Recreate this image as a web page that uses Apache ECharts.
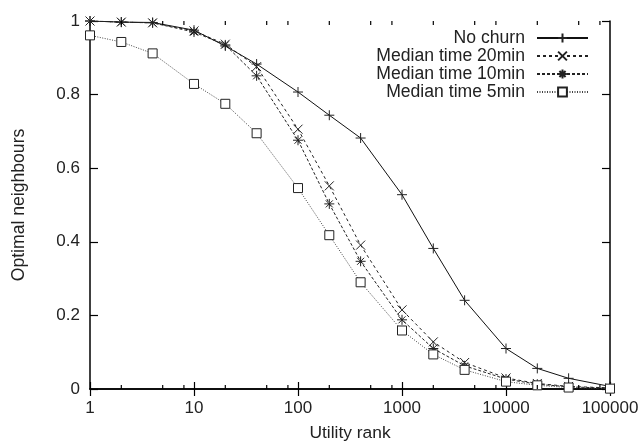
<!DOCTYPE html>
<html><head><meta charset="utf-8">
<script src="https://cdn.jsdelivr.net/npm/echarts@6/dist/echarts.min.js"></script>
<style>html,body{margin:0;padding:0;background:#fff}#c{width:644px;height:447px}</style>
</head><body><div id="c"></div>
<script>
const ranks = [1,2,4,10,20,40,100,200,400,1000,2000,4000,10000,20000,40000,100000];
const noChurn  = [1.0,0.997,0.996,0.975,0.932,0.883,0.807,0.744,0.682,0.528,0.382,0.241,0.110,0.056,0.029,0.007];
const med20    = [1.0,0.997,0.995,0.973,0.937,0.876,0.706,0.552,0.391,0.215,0.128,0.072,0.030,0.015,0.007,0.003];
const med10    = [1.0,0.997,0.995,0.970,0.935,0.851,0.676,0.503,0.347,0.188,0.110,0.063,0.027,0.013,0.006,0.002];
const med5     = [0.961,0.943,0.912,0.829,0.775,0.695,0.546,0.418,0.290,0.159,0.094,0.052,0.020,0.010,0.004,0.001];
const seriesNames = ['No churn','Median time 20min','Median time 10min','Median time 5min'];
const xTickLabels = ['1','10','100','1000','10000','100000'];
const minorTicks = [];
[1,10,100,1000,10000].forEach(d=>[2,5,8].forEach(m=>minorTicks.push(d*m)));

const FONT = '"Liberation Sans", Arial, sans-serif';
const plus = 'path://M0,5L10,5M5,0L5,10';
const cross = 'path://M0,0L10,10M10,0L0,10';
const star = 'path://M0,5L10,5M5,0L5,10M1.5,1.5L8.5,8.5M8.5,1.5L1.5,8.5';

function pair(arr){ return ranks.map((r,i)=>[r,arr[i]]); }
function mk(name, data, sym, size, type, color){
  return {name, type:'line', data:pair(data), symbol:sym, symbolSize:size,
    lineStyle:{color:color, width:1, type:type},
    itemStyle:{color:'#fff', borderColor:'#222', borderWidth:1},
    emphasis:{disabled:true}, z:3};
}
const chart = echarts.init(document.getElementById('c'));
const axisCommon = {
  axisLine:{show:true, lineStyle:{color:'#000', width:1.5}},
  splitLine:{show:false}
};
chart.setOption({
  animation:false,
  backgroundColor:'#fff',
  grid:{left:90, right:34, top:21, bottom:53},
  legend:{
    data:seriesNames, right:55, top:29, padding:0, orient:'vertical', align:'right',
    itemWidth:51, itemHeight:11, itemGap:0,
    textStyle:{fontFamily:FONT, fontSize:17.6, lineHeight:17.6, color:'#222', padding:[0,7,0,0]},
    selectedMode:false
  },
  xAxis:[
    Object.assign({type:'log', logBase:10, min:1, max:100000, position:'bottom',
      axisTick:{inside:true, length:7, lineStyle:{color:'#000', width:1.2}},
      axisLabel:{fontFamily:FONT, fontSize:17, color:'#222', margin:11,
        formatter:(v)=>{const i=Math.round(Math.log10(v)); return xTickLabels[i]!==undefined?xTickLabels[i]:'';}},
      name:'Utility rank', nameLocation:'middle', nameGap:36,
      nameTextStyle:{fontFamily:FONT, fontSize:17.4, color:'#222'}}, axisCommon),
    Object.assign({type:'log', logBase:10, min:1, max:100000, position:'top',
      axisTick:{inside:true, length:7, lineStyle:{color:'#000', width:1.2}},
      axisLabel:{show:false}}, axisCommon)
  ],
  yAxis:[
    Object.assign({type:'value', min:0, max:1, interval:0.2, position:'left',
      axisTick:{inside:true, length:8, lineStyle:{color:'#000', width:1.2}},
      axisLabel:{fontFamily:FONT, fontSize:17, color:'#222', margin:10},
      name:'Optimal neighbours', nameLocation:'middle', nameGap:62, nameRotate:90,
      nameTextStyle:{fontFamily:FONT, fontSize:17.6, color:'#222'}}, axisCommon),
    Object.assign({type:'value', min:0, max:1, interval:0.2, position:'right',
      axisTick:{inside:true, length:8, lineStyle:{color:'#000', width:1.2}},
      axisLabel:{show:false}}, axisCommon)
  ],
  series:[
    mk(seriesNames[0], noChurn, plus, 10, 'solid', '#111'),
    mk(seriesNames[1], med20, cross, 9, [3,3], '#222'),
    mk(seriesNames[2], med10, star, 10, [3,2], '#222'),
    mk(seriesNames[3], med5, 'rect', 9, [1,1.5], '#444'),
    {type:'custom', name:'minor', silent:true, z:5,
     data:minorTicks.map(v=>[v]),
     renderItem:function(params, api){
       const v = api.value(0);
       const b = api.coord([v,0]);
       const t = api.coord([v,1]);
       return {type:'group', children:[
         {type:'line', shape:{x1:b[0],y1:b[1],x2:b[0],y2:b[1]-4}, style:{stroke:'#000', lineWidth:1.2}},
         {type:'line', shape:{x1:t[0],y1:t[1],x2:t[0],y2:t[1]+4}, style:{stroke:'#000', lineWidth:1.2}}
       ]};
     }}
  ]
});
</script></body></html>
